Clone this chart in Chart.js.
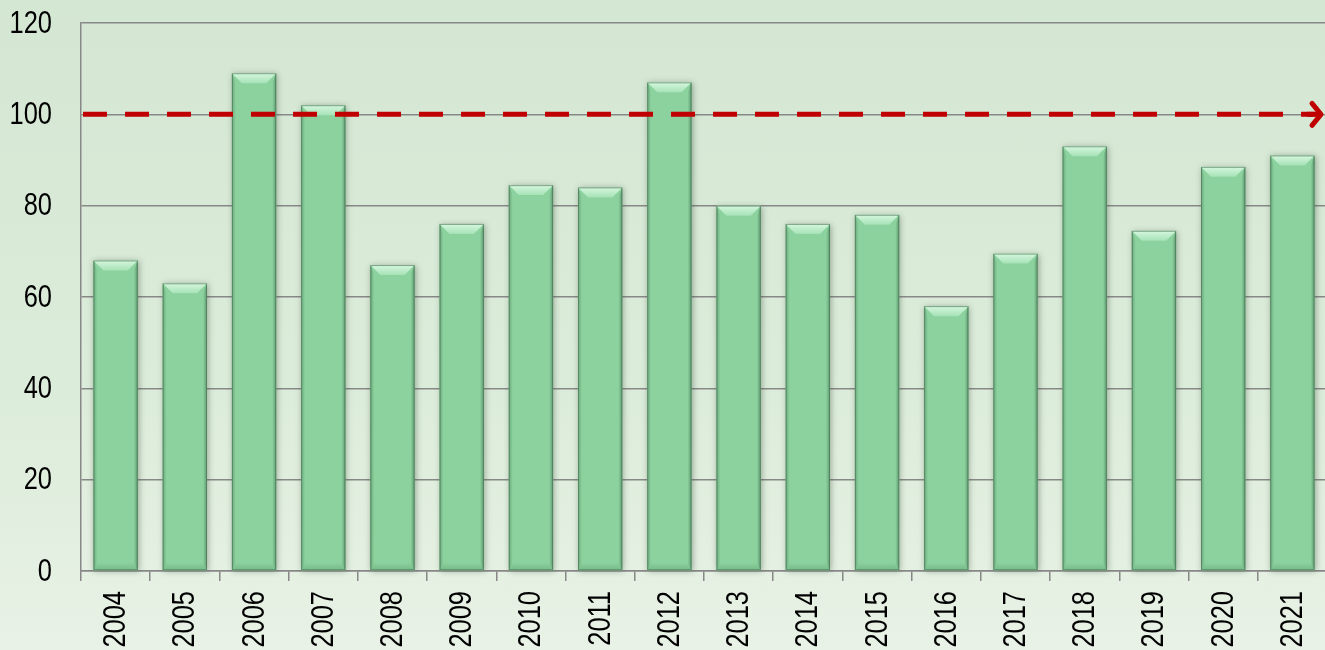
<!DOCTYPE html>
<html>
<head>
<meta charset="utf-8">
<script src="https://cdn.jsdelivr.net/npm/chart.js@4"></script>
<style>
  html, body { margin:0; padding:0; overflow:hidden; width:1325px; height:650px;
    background: linear-gradient(to bottom, #d4e7d3 0%, #dcecda 60%, #e8f2e6 100%); }
  #wrap { position:absolute; left:0; top:0; width:1327px; height:650px; }
</style>
</head>
<body>
<div id="wrap"><canvas id="c"></canvas></div>
<script>
const categories = ['2004','2005','2006','2007','2008','2009','2010','2011','2012','2013','2014','2015','2016','2017','2018','2019','2020','2021'];
const values = [68, 63, 109, 102, 67, 76, 84.5, 84, 107, 80, 76, 78, 58, 69.5, 93, 74.5, 88.5, 91];
const yMin = 0, yMax = 120, yStep = 20;
const referenceValue = 100;

const FONT = "31px 'Liberation Sans', Arial, sans-serif";
const NARROW = 0.82;

const bevelPlugin = {
  id: 'bevel',
  beforeDatasetsDraw(chart) {
    const ctx = chart.ctx;
    const meta = chart.getDatasetMeta(0);
    ctx.save();
    meta.data.forEach(el => {
      const l = el.x - el.width/2, t = el.y, h = el.base - el.y;
      ctx.shadowColor = 'rgba(60,80,60,0.45)';
      ctx.shadowBlur = 6;
      ctx.shadowOffsetX = 1;
      ctx.shadowOffsetY = 1;
      ctx.fillStyle = '#8cd29f';
      ctx.fillRect(l, t, el.width, h);
    });
    ctx.restore();
  },
  afterDatasetsDraw(chart) {
    const ctx = chart.ctx;
    const meta = chart.getDatasetMeta(0);
    ctx.save();
    meta.data.forEach(el => {
      const l = el.x - el.width/2, r = el.x + el.width/2, t = el.y, b = el.base;
      const bv = 10, sv = 4;
      let g = ctx.createLinearGradient(0, t, 0, t + bv);
      g.addColorStop(0, '#d6f7df');
      g.addColorStop(1, '#a6e2b6');
      ctx.fillStyle = g;
      ctx.beginPath();
      ctx.moveTo(l, t); ctx.lineTo(r, t); ctx.lineTo(r - bv, t + bv); ctx.lineTo(l + bv, t + bv); ctx.closePath();
      ctx.fill();
      g = ctx.createLinearGradient(l, 0, l + sv, 0);
      g.addColorStop(0, '#6aa97b');
      g.addColorStop(1, '#8cd29f');
      ctx.fillStyle = g;
      ctx.beginPath();
      ctx.moveTo(l, t); ctx.lineTo(l + sv, t + sv * 2.5); ctx.lineTo(l + sv, b - sv); ctx.lineTo(l, b); ctx.closePath();
      ctx.fill();
      g = ctx.createLinearGradient(r - sv, 0, r, 0);
      g.addColorStop(0, '#8cd29f');
      g.addColorStop(1, '#5f9a70');
      ctx.fillStyle = g;
      ctx.beginPath();
      ctx.moveTo(r, t); ctx.lineTo(r - sv, t + sv * 2.5); ctx.lineTo(r - sv, b - sv); ctx.lineTo(r, b); ctx.closePath();
      ctx.fill();
      g = ctx.createLinearGradient(0, b - 8, 0, b);
      g.addColorStop(0, '#8cd29f');
      g.addColorStop(1, '#76b988');
      ctx.fillStyle = g;
      ctx.beginPath();
      ctx.moveTo(l + sv, b - 8); ctx.lineTo(r - sv, b - 8); ctx.lineTo(r, b); ctx.lineTo(l, b); ctx.closePath();
      ctx.fill();
      ctx.strokeStyle = 'rgba(70,110,80,0.6)';
      ctx.lineWidth = 1;
      ctx.strokeRect(l + 0.5, t + 0.5, r - l - 1, b - t - 1);
    });
    ctx.restore();
  }
};

const refLinePlugin = {
  id: 'refLine',
  afterDatasetsDraw(chart) {
    const ctx = chart.ctx;
    const ys = chart.scales.y;
    const area = chart.chartArea;
    const y = ys.getPixelForValue(referenceValue);
    const xEnd = 1321;
    ctx.save();
    ctx.strokeStyle = '#c00000';
    ctx.lineWidth = 5;
    ctx.setLineDash([24, 18]);
    ctx.beginPath();
    ctx.moveTo(area.left + 2, y);
    ctx.lineTo(xEnd - 6, y);
    ctx.stroke();
    ctx.setLineDash([]);
    ctx.lineCap = 'round';
    ctx.lineJoin = 'round';
    ctx.beginPath();
    ctx.moveTo(xEnd - 9, y - 11);
    ctx.lineTo(xEnd, y);
    ctx.lineTo(xEnd - 9, y + 11);
    ctx.stroke();
    ctx.beginPath();
    ctx.lineCap = 'butt';
    ctx.moveTo(xEnd - 14, y);
    ctx.lineTo(xEnd, y);
    ctx.stroke();
    ctx.restore();
  }
};

const narrowLabels = {
  id: 'narrowLabels',
  afterDraw(chart) {
    const ctx = chart.ctx;
    const xs = chart.scales.x, ys = chart.scales.y;
    ctx.save();
    ctx.font = FONT;
    ctx.fillStyle = '#000';
    ys.ticks.forEach(t => {
      const py = ys.getPixelForValue(t.value);
      ctx.save();
      ctx.translate(52, py);
      ctx.scale(NARROW, 1);
      ctx.textAlign = 'right';
      ctx.textBaseline = 'middle';
      ctx.fillText(String(t.value), 0, 1);
      ctx.restore();
    });
    categories.forEach((lab, i) => {
      const px = xs.getPixelForValue(i);
      ctx.save();
      ctx.translate(px, xs.top + 20);
      ctx.rotate(-Math.PI / 2);
      ctx.scale(NARROW, 1);
      ctx.textAlign = 'right';
      ctx.textBaseline = 'middle';
      ctx.fillText(lab, 0, 1);
      ctx.restore();
    });
    ctx.restore();
  }
};

new Chart(document.getElementById('c'), {
  type: 'bar',
  data: {
    labels: categories,
    datasets: [{
      data: values,
      backgroundColor: 'rgba(0,0,0,0)',
      borderWidth: 0,
      barPercentage: 0.64,
      categoryPercentage: 1.0
    }]
  },
  options: {
    responsive: true,
    maintainAspectRatio: false,
    animation: false,
    events: [],
    layout: { padding: { top: 23, right: 0, left: 0, bottom: 0 } },
    plugins: { legend: { display: false }, tooltip: { enabled: false }, title: { display: false } },
    scales: {
      x: {
        grid: { display: true, drawOnChartArea: false, drawTicks: true, tickLength: 10, color: '#888888', lineWidth: 1.5, offset: true },
        border: { display: true, color: '#888888', width: 1.5 },
        ticks: { display: false, autoSkip: false },
        afterFit(scale) { scale.height = 79; }
      },
      y: {
        min: yMin, max: yMax,
        grid: { color: '#888888', lineWidth: 1.5, drawTicks: false, tickLength: 0 },
        border: { display: true, color: '#888888', width: 1.5 },
        ticks: { display: false, stepSize: yStep },
        afterFit(scale) { scale.width = 81; }
      }
    }
  },
  plugins: [bevelPlugin, refLinePlugin, narrowLabels]
});
</script>
</body>
</html>
